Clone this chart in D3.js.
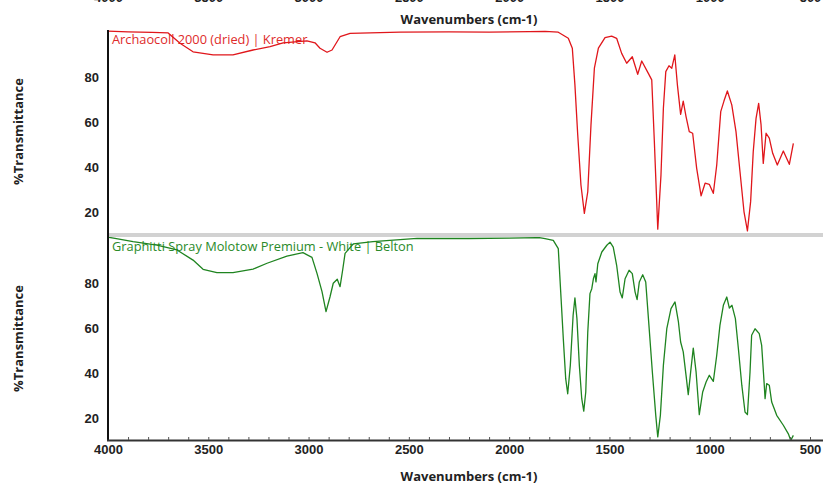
<!DOCTYPE html>
<html>
<head>
<meta charset="utf-8">
<script src="https://cdn.jsdelivr.net/npm/d3@7"></script>
<style>
	body { margin: 0; background: #fff; }
	svg { display: block; font-family: "Open Sans", sans-serif; }
	.tick text { font-weight: 700; font-size: 13px; fill: #222; }
</style>
</head>
<body>
<div id="graph-container"></div>
<script>
// spectrum 1 : Archaocoll 2000 (dried) | Kremer
const archaocollWn = [4000, 3900, 3780, 3700, 3641, 3576, 3476, 3377, 3277, 3192, 3127, 3008, 2968, 2943, 2908, 2883, 2843, 2793, 2544, 2300, 2100, 1900, 1821, 1755, 1705, 1685, 1672, 1658, 1642, 1625, 1608, 1592, 1575, 1555, 1522, 1489, 1464, 1439, 1414, 1386, 1359, 1339, 1306, 1289, 1276, 1259, 1243, 1231, 1219, 1203, 1189, 1174, 1161, 1145, 1132, 1118, 1102, 1085, 1065, 1043, 1023, 1002, 982, 965, 945, 929, 912, 890, 869, 849, 829, 812, 796, 783, 769, 756, 744, 733, 719, 703, 686, 663, 633, 603, 583];
const archaocollT = [100.4, 100.1, 99.8, 99.6, 95, 91.2, 89.8, 89.8, 92, 93.5, 95.2, 96.1, 95.2, 92.8, 91, 92, 97.9, 99.4, 99.9, 100.1, 99.9, 100.2, 100.3, 99.9, 97.2, 92.8, 76.4, 54.2, 32, 19.4, 29, 58.7, 83.9, 92.8, 97.5, 98.2, 97.2, 90.5, 86.1, 89, 81.2, 87.1, 81.6, 78.7, 51.2, 12.4, 36.4, 66.1, 82.4, 85, 83.9, 89.8, 76.4, 63.4, 69.3, 62.4, 55.7, 55, 39.4, 27.2, 32.8, 32.3, 28.3, 40.9, 64.6, 69.3, 73.8, 67.6, 55.7, 37.9, 20.1, 11.6, 24.6, 46.8, 61.6, 68.3, 58.7, 41.6, 55, 52.8, 46.1, 40.9, 47.1, 41.2, 50.5];

// spectrum 2 : Graphitti Spray Molotow Premium - White | Belton
const graphittiWn = [3995, 3965, 3875, 3756, 3656, 3576, 3526, 3457, 3377, 3277, 3207, 3108, 3028, 2983, 2958, 2933, 2913, 2893, 2877, 2857, 2843, 2830, 2818, 2777, 2679, 2459, 2200, 2000, 1850, 1821, 1780, 1755, 1741, 1730, 1718, 1708, 1695, 1681, 1672, 1662, 1650, 1638, 1628, 1618, 1608, 1597, 1588, 1580, 1572, 1567, 1558, 1538, 1513, 1497, 1481, 1464, 1447, 1436, 1422, 1402, 1386, 1372, 1362, 1351, 1334, 1319, 1303, 1286, 1269, 1259, 1246, 1231, 1214, 1193, 1173, 1156, 1145, 1132, 1118, 1107, 1095, 1082, 1068, 1052, 1035, 1018, 1002, 982, 965, 949, 932, 915, 902, 889, 872, 857, 840, 824, 812, 799, 791, 774, 753, 741, 729, 724, 716, 703, 691, 666, 633, 608, 596, 583];
const graphittiT = [100.5, 100.1, 98.6, 97.1, 94.9, 90.4, 86.3, 84.8, 84.8, 86.4, 89, 92.2, 93.7, 91.6, 84.5, 76.4, 67.5, 74.1, 80.1, 81.9, 78.6, 86, 93.4, 97.6, 98.6, 100.1, 100, 100.2, 100.4, 99.9, 99.2, 95.5, 73.2, 55.5, 37.7, 31, 43.6, 65.9, 73.6, 64.4, 43.6, 28.8, 23.3, 31.8, 58.4, 75.5, 77.7, 82.1, 84.4, 80.7, 88.8, 94, 97, 98.4, 96.2, 88.1, 76.2, 73.6, 82.1, 85.9, 84.4, 76.2, 72.8, 80.7, 83.9, 80.7, 61.4, 40.7, 21.4, 11.8, 21.4, 43.6, 59.9, 68.8, 71.8, 62.9, 54, 49.6, 39.2, 30.6, 40.7, 51.3, 40.7, 21.7, 31.8, 36.2, 39.2, 36.5, 48.1, 61.4, 70.3, 74, 69.1, 70.3, 64.4, 51, 34.8, 22.9, 21.7, 40.7, 57, 59.9, 57.7, 52.5, 36.2, 28.8, 35.5, 34.8, 27.3, 21.4, 17, 13.2, 10.3, 12.5];

const seriesNames = ["Archaocoll 2000 (dried) | Kremer", "Graphitti Spray Molotow Premium - White | Belton"];
const xTicks = [4000, 3500, 3000, 2500, 2000, 1500, 1000, 500];
const yTicks = [20, 40, 60, 80];
const xTitle = "Wavenumbers (cm-1)";
const yTitle = "%Transmittance";

document.addEventListener("DOMContentLoaded", function () {
	builder();
});

function builder() {
	const w = 823;
	const h = 484;
	const left = 108; // y axis position
	const right = 823; // plot runs to the window edge
	const fmt = d3.format("d"); // no thousands separator

	const svg = d3
		.select("#graph-container")
		.append("svg")
		.attr("width", w)
		.attr("height", h);

	// shared x scale, reversed like an IR spectrum
	const x = d3.scaleLinear().domain([4000, 500]).range([108, 810]);

	// two stacked panels
	const panels = [
		{ top: 30, bottom: 233, y0: 234.5, y100: 32, wn: archaocollWn, t: archaocollT, name: seriesNames[0], line: "#e0161b", text: "#de2a2a" },
		{ top: 237, bottom: 440, y0: 441, y100: 238.5, wn: graphittiWn, t: graphittiT, name: seriesNames[1], line: "#1f8420", text: "#2a8a2a" }
	];

	const defs = svg.append("defs");

	panels.forEach((p, i) => {
		// y from 10 to 100 %T
		const y = d3.scaleLinear().domain([10, 100]).range([p.y0, p.y100]);

		defs.append("clipPath")
			.attr("id", "clip" + i)
			.append("rect")
			.attr("x", left)
			.attr("y", p.top)
			.attr("width", right - left)
			.attr("height", p.bottom - p.top);

		const yAxis = d3.axisLeft(y).tickValues(yTicks).tickSize(0).tickPadding(9);
		svg.append("g")
			.attr("transform", `translate(${left},0)`)
			.call(yAxis)
			.call((g) => g.select(".domain").remove());

		// series name
		svg.append("text")
			.attr("x", 112)
			.attr("y", p.top + 14)
			.attr("font-size", 12.8)
			.attr("fill", p.text)
			.text(p.name);

		const pts = p.wn.map((d, k) => [d, p.t[k]]);
		const line = d3.line()
			.x((d) => x(d[0]))
			.y((d) => y(d[1]));

		svg.append("path")
			.datum(pts)
			.attr("clip-path", `url(#clip${i})`)
			.attr("fill", "none")
			.attr("stroke", p.line)
			.attr("stroke-width", 1.3)
			.attr("stroke-linejoin", "round")
			.attr("d", line);

		// y title
		svg.append("text")
			.attr("transform", `translate(23,${(p.top + p.bottom) / 2}) rotate(-90)`)
			.attr("text-anchor", "middle")
			.attr("font-size", 13)
			.attr("font-weight", 700)
			.attr("fill", "#222")
			.text(yTitle);
	});

	// grey separator between panels
	svg.append("rect")
		.attr("x", left)
		.attr("y", 233)
		.attr("width", right - left)
		.attr("height", 4)
		.attr("fill", "#d2d2d2");

	// left axis line
	svg.append("line")
		.attr("x1", left).attr("x2", left)
		.attr("y1", 30).attr("y2", 441)
		.attr("stroke", "#111")
		.attr("stroke-width", 2);

	// bottom axis line + minor ticks pointing into the plot
	svg.append("line")
		.attr("x1", left - 1).attr("x2", right)
		.attr("y1", 440.5).attr("y2", 440.5)
		.attr("stroke", "#333")
		.attr("stroke-width", 2);

	svg.append("g")
		.attr("transform", "translate(0,440)")
		.call(d3.axisTop(x).tickValues(d3.range(3900, 400, -100)).tickSize(3).tickFormat(""))
		.call((g) => g.select(".domain").remove())
		.call((g) => g.selectAll(".tick line").attr("stroke", "#555"));

	svg.append("g")
		.attr("transform", "translate(0,441)")
		.call(d3.axisBottom(x).tickValues(xTicks).tickSize(0).tickPadding(4).tickFormat(fmt))
		.call((g) => g.select(".domain").remove());

	// top axis labels, mostly cut by the window edge as in the original
	svg.append("g")
		.attr("transform", "translate(0,14)")
		.call(d3.axisTop(x).tickValues(xTicks).tickSize(0).tickPadding(12).tickFormat(fmt))
		.call((g) => g.select(".domain").remove());

	// x titles, top and bottom
	[24, 481].forEach((yy) => {
		svg.append("text")
			.attr("x", 469)
			.attr("y", yy)
			.attr("text-anchor", "middle")
			.attr("font-size", 13)
			.attr("font-weight", 700)
			.attr("fill", "#222")
			.text(xTitle);
	});
}
</script>
</body>
</html>
